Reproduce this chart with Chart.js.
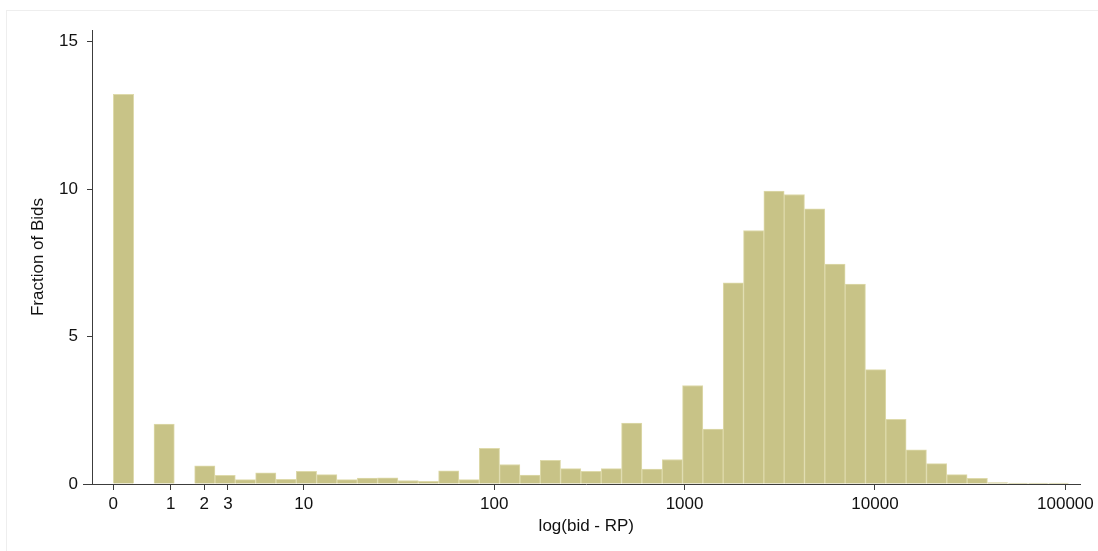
<!DOCTYPE html>
<html>
<head>
<meta charset="utf-8">
<script src="https://cdn.jsdelivr.net/npm/chart.js@4"></script>
<style>
  body { margin: 0; background: #fff; }
  #wrap { position: relative; width: 1098px; height: 551px; }
  #frame { position: absolute; left: 6px; top: 10px; right: -2px; bottom: -2px; border: 1px solid #eeeeee; }
  canvas { position: absolute; left: 0; top: 0; }
</style>
</head>
<body>
<div id="wrap">
  <div id="frame"></div>
  <canvas id="hist" width="1098" height="551"></canvas>
</div>
<script>
// histogram of log10(bid - RP): 47 equal bins starting at 0
const binWidth = 0.10676;
const binValues = [
  13.22, 0, 2.03, 0, 0.62, 0.29, 0.15, 0.38, 0.16, 0.43,
  0.32, 0.15, 0.20, 0.21, 0.12, 0.09, 0.45, 0.15, 1.21, 0.66,
  0.30, 0.80, 0.52, 0.43, 0.52, 2.07, 0.51, 0.83, 3.34, 1.86,
  6.82, 8.60, 9.94, 9.82, 9.33, 7.46, 6.78, 3.88, 2.19, 1.16,
  0.69, 0.32, 0.19, 0.05, 0.03, 0.03, 0.03
];

// x ticks sit at log10 positions, labelled with the raw amounts
const xTickAt = [1, 2, 3, 4, 10, 100, 1000, 10000, 100000];
const xTickLabels = ['0', '1', '2', '3', '10', '100', '1000', '10000', '100000'];
const yTicks = [0, 5, 10, 15];

const font = { family: "'Liberation Sans', Arial, Helvetica, sans-serif", size: 17 };
const axisColor = '#3c3c3c';

// Stata draws the x axis a little past the y axis on the left
const axisStub = {
  id: 'axisStub',
  afterDraw(chart) {
    const { ctx, chartArea } = chart;
    const y = chart.scales.y.getPixelForValue(0);
    ctx.save();
    ctx.strokeStyle = axisColor;
    ctx.lineWidth = 1;
    ctx.beginPath();
    ctx.moveTo(chartArea.left - 9, Math.round(y) + 0.5);
    ctx.lineTo(chartArea.left, Math.round(y) + 0.5);
    ctx.stroke();
    ctx.restore();
  }
};

new Chart(document.getElementById('hist'), {
  type: 'bar',
  data: {
    datasets: [{
      data: binValues.map((v, k) => ({ x: (k + 0.5) * binWidth, y: v || null })),
      backgroundColor: '#c8c387',
      borderColor: '#dedaab',
      borderWidth: 1,
      borderSkipped: 'start',
      barPercentage: 1,
      categoryPercentage: 1
    }]
  },
  options: {
    responsive: false,
    animation: false,
    layout: { padding: { top: 30, right: 16, bottom: 0, left: 0 } },
    plugins: { legend: { display: false }, tooltip: { enabled: false } },
    scales: {
      x: {
        type: 'linear',
        min: -0.112,
        max: 5.08,
        offset: false,
        afterFit: s => { s.height = 67; },
        afterBuildTicks: s => { s.ticks = xTickAt.map(v => ({ value: Math.log10(v) })); },
        grid: { offset: false, drawOnChartArea: false, drawTicks: true, tickLength: 6, tickColor: axisColor },
        border: { display: true, color: axisColor, width: 1 },
        ticks: {
          autoSkip: false, maxRotation: 0, padding: 4, color: '#111', font,
          callback: (value, index) => xTickLabels[index]
        },
        title: { display: true, text: 'log(bid - RP)', color: '#111', font, padding: { top: 0, bottom: 14 } }
      },
      y: {
        min: 0,
        max: 15.4,
        afterFit: s => { s.width = 92; },
        afterBuildTicks: s => { s.ticks = yTicks.map(v => ({ value: v })); },
        grid: { drawOnChartArea: false, drawTicks: true, tickLength: 5, tickColor: axisColor },
        border: { display: true, color: axisColor, width: 1 },
        ticks: { padding: 9, color: '#111', font },
        title: { display: true, text: 'Fraction of Bids', color: '#111', font, padding: { top: 28, bottom: 0 } }
      }
    }
  },
  plugins: [axisStub]
});
</script>
</body>
</html>
